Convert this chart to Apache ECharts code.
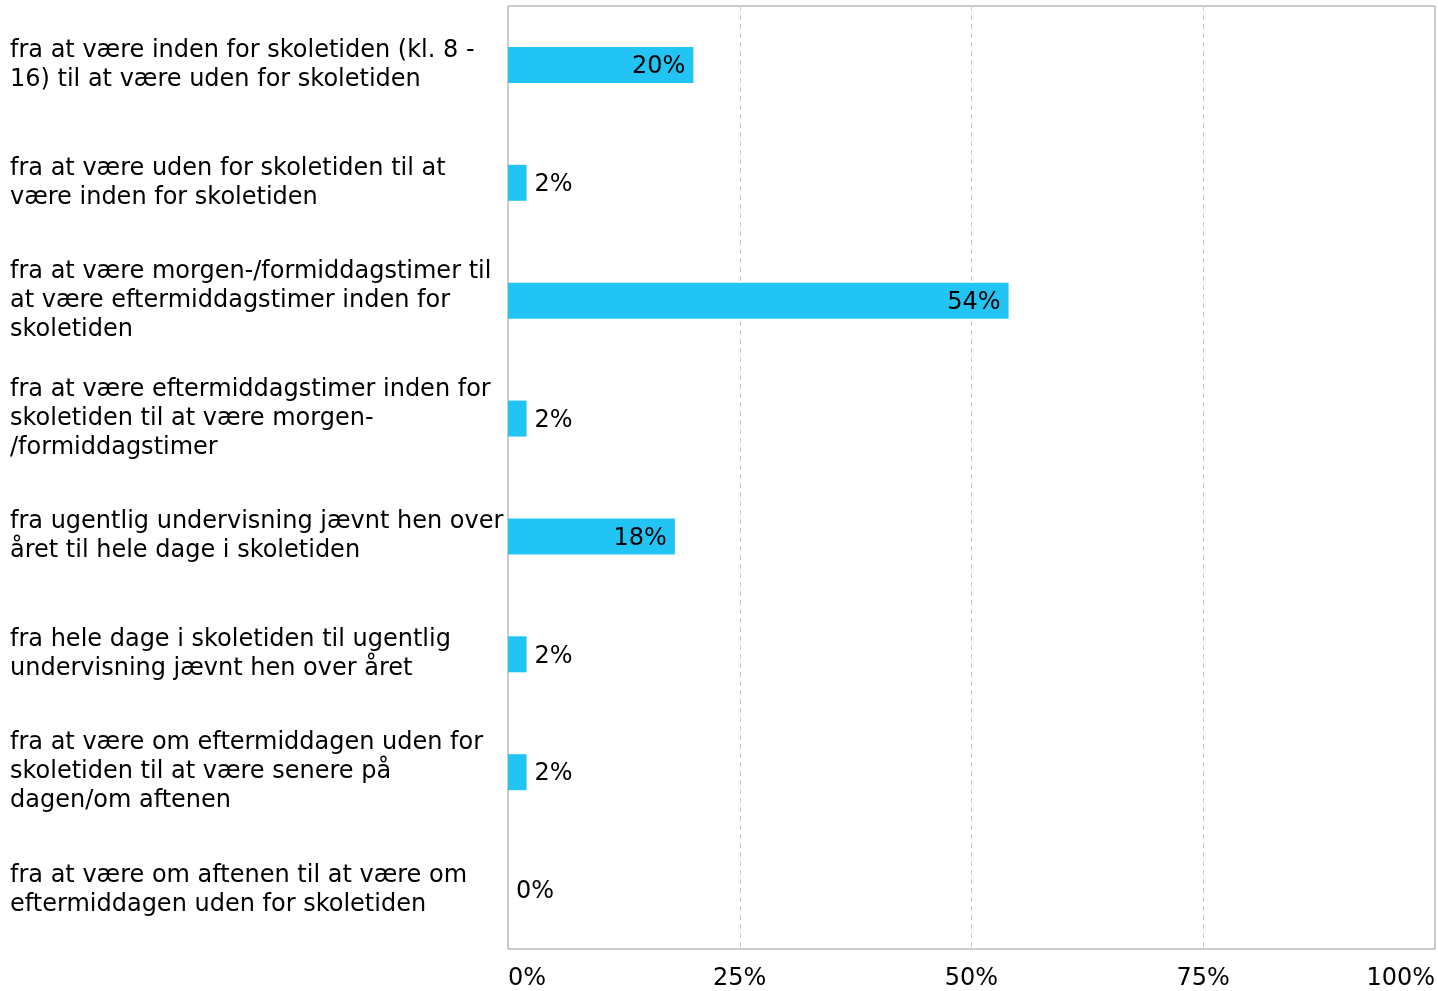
<!DOCTYPE html>
<html>
<head>
<meta charset="utf-8">
<script src="https://cdn.jsdelivr.net/npm/echarts@6/dist/echarts.min.js"></script>
<style>
  html, body { margin: 0; padding: 0; background: #fff; }
  #chart { width: 1438px; height: 991px; }
</style>
</head>
<body>
<div id="chart"></div>
<script>
var categories = [
  "fra at være inden for skoletiden (kl. 8 -\n16) til at være uden for skoletiden",
  "fra at være uden for skoletiden til at\nvære inden for skoletiden",
  "fra at være morgen-/formiddagstimer til\nat være eftermiddagstimer inden for\nskoletiden",
  "fra at være eftermiddagstimer inden for\nskoletiden til at være morgen-\n/formiddagstimer",
  "fra ugentlig undervisning jævnt hen over\nåret til hele dage i skoletiden",
  "fra hele dage i skoletiden til ugentlig\nundervisning jævnt hen over året",
  "fra at være om eftermiddagen uden for\nskoletiden til at være senere på\ndagen/om aftenen",
  "fra at være om aftenen til at være om\neftermiddagen uden for skoletiden"
];
var values = [20, 2, 54, 2, 18, 2, 2, 0];
var xTicks = [0, 25, 50, 75, 100];

var font = "DejaVu Sans, Verdana, sans-serif";

var chart = echarts.init(document.getElementById("chart"));

var seriesData = values.map(function (v) {
  // wide bars carry their label inside, short ones outside
  return {
    value: v,
    label: { position: v >= 10 ? "insideRight" : "right" }
  };
});

chart.setOption({
  animation: false,
  grid: {
    left: 508,
    right: 3,
    top: 6,
    bottom: 41,
    show: true,
    borderColor: "#999999",
    borderWidth: 1
  },
  xAxis: {
    type: "value",
    min: xTicks[0],
    max: xTicks[xTicks.length - 1],
    interval: 25,
    axisLine: { show: false },
    axisTick: { show: false },
    axisLabel: {
      formatter: "{value}%",
      color: "#000",
      fontFamily: font,
      fontSize: 24,
      margin: 18,
      alignMinLabel: "left",
      alignMaxLabel: "right"
    },
    splitLine: {
      show: true,
      lineStyle: { color: "#c8c8c8", type: [5, 4], width: 1 }
    }
  },
  yAxis: {
    type: "category",
    data: categories,
    inverse: true,
    axisLine: { show: false },
    axisTick: { show: false },
    axisLabel: {
      align: "left",
      margin: 498,
      color: "#000",
      fontFamily: font,
      fontSize: 24,
      lineHeight: 29,
      padding: [5, 0, 0, 0],
      interval: 0
    }
  },
  series: [
    {
      type: "bar",
      data: seriesData,
      barWidth: 36,
      itemStyle: { color: "#22c4f4" },
      label: {
        show: true,
        formatter: "{c}%",
        color: "#000",
        fontFamily: font,
        fontSize: 24,
        distance: 8,
        offset: [0, 2]
      }
    }
  ]
});
</script>
</body>
</html>
